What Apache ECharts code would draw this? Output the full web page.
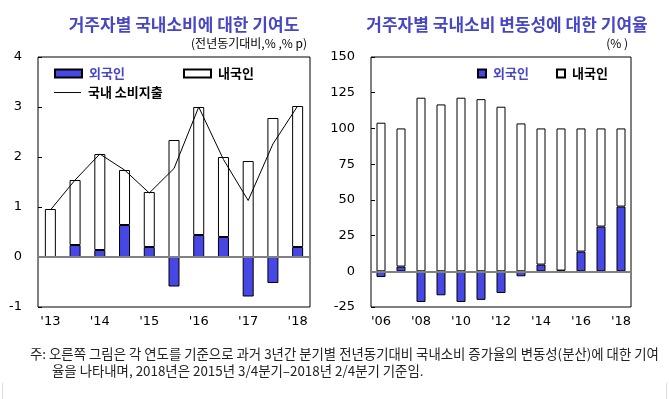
<!DOCTYPE html>
<html>
<head>
<meta charset="utf-8">
<script src="https://cdn.jsdelivr.net/npm/echarts@6/dist/echarts.min.js"></script>
<style>
  html, body { margin: 0; padding: 0; background: #fff; }
  #chart { width: 669px; height: 399px; }
</style>
</head>
<body>
<div id="chart"></div>
<script>
// left: half-yearly contributions ('13 ~ '18)
var leftCats = ["'13", "'13H", "'14", "'14H", "'15", "'15H", "'16", "'16H", "'17", "'17H", "'18"];
var leftForeign = [-0.02, 0.24, 0.14, 0.64, 0.20, -0.59, 0.44, 0.40, -0.79, -0.52, 0.20];
var leftDomestic = [0.96, 1.30, 1.92, 1.10, 1.10, 2.34, 2.56, 1.60, 1.92, 2.78, 2.82];
var leftTotal = [0.94, 1.54, 2.06, 1.74, 1.28, 1.77, 3.00, 1.95, 1.13, 2.26, 3.02];

// right: contribution to variance ('06 ~ '18)
var rightCats = ["'06", "'07", "'08", "'09", "'10", "'11", "'12", "'13", "'14", "'15", "'16", "'17", "'18"];
var rightForeign = [-4.0, 3.3, -21.5, -16.8, -21.5, -20.0, -15.2, -3.5, 4.7, 0.5, 13.8, 31.3, 45.3];
var rightDomestic = [104.0, 96.7, 121.5, 116.8, 121.5, 120.5, 115.2, 103.5, 95.3, 99.5, 86.2, 68.7, 54.7];

var blue = '#4747e6';
var titleBlue = '#4646c6';
var numFont = 'DejaVu Sans';
var krFont = 'Noto Sans CJK KR';

var chart = echarts.init(document.getElementById('chart'));

function legendItem(name, left, top, color, icon, w, h) {
    return {
        left: left, top: top, orient: 'horizontal',
        icon: icon, itemWidth: w, itemHeight: h, itemGap: 0,
        selectedMode: false,
        textStyle: { fontFamily: krFont, fontWeight: 'bold', fontSize: 13, color: color, padding: [0, 0, 0, 2] },
        padding: 0,
        data: [name]
    };
}

// gray line at zero, drawn by a label-less category axis sitting on y = 0
function zeroAxis(grid, cats) {
    return {
        type: 'category', gridIndex: grid, data: cats, position: 'top', z: 4,
        axisLine: { show: true, onZero: true, lineStyle: { color: '#808080', width: 2 } },
        axisTick: { show: false }, axisLabel: { show: false }, splitLine: { show: false }
    };
}

chart.setOption({
    animation: false,
    backgroundColor: '#fff',
    title: [
        { text: '거주자별 국내소비에 대한 기여도', left: 179, top: 11, textAlign: 'center',
          textStyle: { fontFamily: krFont, fontSize: 17, fontWeight: 'bold', color: titleBlue } },
        { text: '거주자별 국내소비 변동성에 대한 기여율', left: 502, top: 11, textAlign: 'center',
          textStyle: { fontFamily: krFont, fontSize: 17, fontWeight: 'bold', color: titleBlue } }
    ],
    graphic: [
        { type: 'text', right: 362, top: 37, style: { text: '(전년동기대비,% ,% p)', font: '12px "Noto Sans CJK KR"', fill: '#000' } },
        { type: 'text', right: 41, top: 37, style: { text: '(% )', font: '12px "Noto Sans CJK KR"', fill: '#000' } },
        { type: 'text', left: 30, top: 347, style: {
            text: '주: 오른쪽 그림은 각 연도를 기준으로 과거 3년간 분기별 전년동기대비 국내소비 증가율의 변동성(분산)에 대한 기여',
            font: '13.4px "Noto Sans CJK KR"', fill: '#222' } },
        { type: 'text', left: 52, top: 364, style: {
            text: '율을 나타내며, 2018년은 2015년 3/4분기–2018년 2/4분기 기준임.',
            font: '13.4px "Noto Sans CJK KR"', fill: '#222' } },
        { type: 'line', shape: { x1: 2.5, y1: 383, x2: 2.5, y2: 399 }, style: { stroke: '#ddd', lineWidth: 1 } },
        { type: 'line', shape: { x1: 666.5, y1: 383, x2: 666.5, y2: 399 }, style: { stroke: '#ddd', lineWidth: 1 } }
    ],
    legend: [
        legendItem('외국인', 54, 67, titleBlue, 'rect', 27, 8),
        legendItem('내국인', 183, 67, '#000', 'rect', 27, 8),
        legendItem('국내 소비지출', 54, 86, '#000', 'path://M0,6.5 L28,6.5 L28,7.5 L0,7.5 Z', 27, 14),
        legendItem('외국인 ', 477, 67, titleBlue, 'rect', 8, 8),
        legendItem('내국인 ', 556, 67, '#000', 'rect', 8, 8)
    ],
    grid: [
        { left: 38, top: 57, width: 272, height: 250, show: true, borderColor: '#000', borderWidth: 1 },
        { left: 371, top: 57, width: 260, height: 250, show: true, borderColor: '#000', borderWidth: 1 }
    ],
    xAxis: [
        { type: 'category', gridIndex: 0, data: leftCats, boundaryGap: true, position: 'bottom',
          axisLine: { show: false, onZero: false }, axisTick: { show: false },
          axisLabel: { interval: 1, margin: 8, fontFamily: numFont, fontSize: 13, color: '#000',
                       formatter: function (v) { return v.indexOf('H') >= 0 ? '' : v; } } },
        zeroAxis(0, leftCats),
        { type: 'category', gridIndex: 1, data: rightCats, boundaryGap: true, position: 'bottom',
          axisLine: { show: false, onZero: false }, axisTick: { show: false },
          axisLabel: { interval: 1, margin: 8, fontFamily: numFont, fontSize: 13, color: '#000' } },
        zeroAxis(1, rightCats)
    ],
    yAxis: [
        { type: 'value', gridIndex: 0, min: -1, max: 4, interval: 1,
          axisLine: { show: false }, splitLine: { show: false },
          axisTick: { show: true, inside: true, length: 4, lineStyle: { color: '#000' } },
          axisLabel: { margin: 16, fontFamily: numFont, fontSize: 13, color: '#000' } },
        { type: 'value', gridIndex: 1, min: -25, max: 150, interval: 25,
          axisLine: { show: false }, splitLine: { show: false },
          axisTick: { show: true, inside: true, length: 4, lineStyle: { color: '#000' } },
          axisLabel: { margin: 16, fontFamily: numFont, fontSize: 13, color: '#000' } }
    ],
    series: [
        { name: '외국인', type: 'bar', xAxisIndex: 0, yAxisIndex: 0, stack: 'l', barWidth: 11,
          itemStyle: { color: blue, borderColor: '#000', borderWidth: 1 },
          data: leftForeign },
        { name: '내국인', type: 'bar', xAxisIndex: 0, yAxisIndex: 0, stack: 'l', barWidth: 11,
          itemStyle: { color: '#fff', borderColor: '#000', borderWidth: 1 },
          data: leftDomestic },
        { name: '국내 소비지출', type: 'line', xAxisIndex: 0, yAxisIndex: 0, symbol: 'none', z: 5,
          lineStyle: { color: '#000', width: 1 }, itemStyle: { color: '#000' },
          data: leftTotal },
        { name: '외국인 ', type: 'bar', xAxisIndex: 2, yAxisIndex: 1, stack: 'r', barWidth: 9,
          itemStyle: { color: blue, borderColor: '#000', borderWidth: 1 },
          data: rightForeign },
        { name: '내국인 ', type: 'bar', xAxisIndex: 2, yAxisIndex: 1, stack: 'r', barWidth: 9,
          itemStyle: { color: '#fff', borderColor: '#000', borderWidth: 1 },
          data: rightDomestic }
    ]
});
</script>
</body>
</html>
